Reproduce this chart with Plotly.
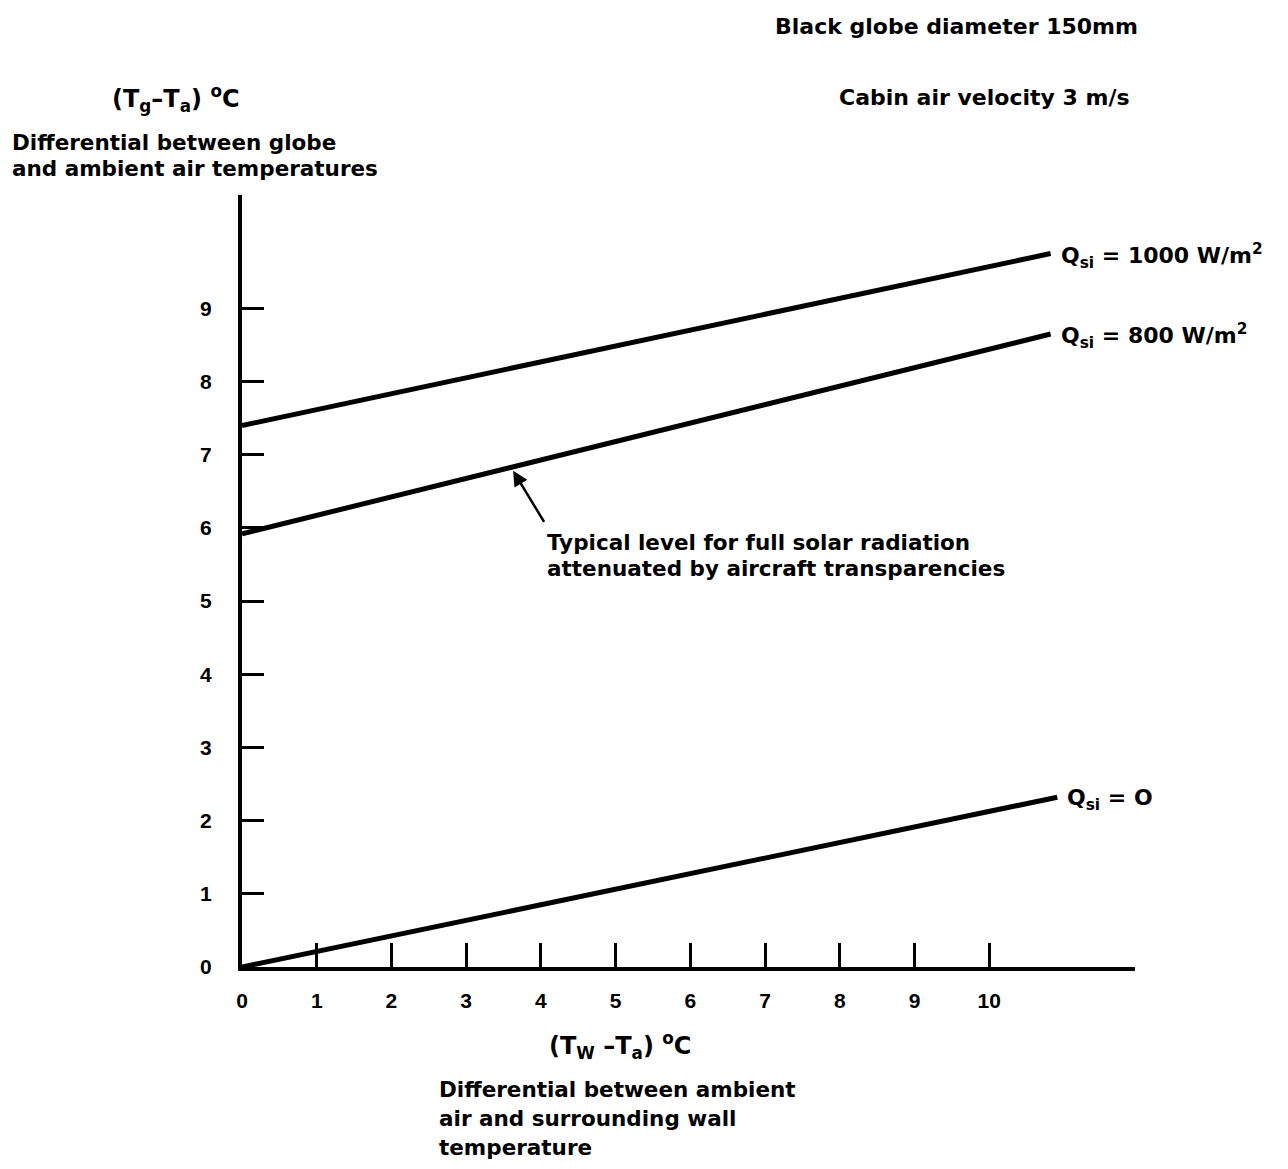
import plotly.graph_objects as go

# Wall-minus-air temperature differential (deg C) at the ends of each curve
x_start = [0.0, 0.0, 0.0]
x_end = [10.82, 10.82, 10.91]
# Globe-minus-air temperature differential (deg C) at those ends
q1000_y = [7.40, 9.75]
q800_y = [5.92, 8.65]
q0_y = [0.0, 2.32]

curve_labels = ["Q<sub>si</sub> = 1000 W/m<sup>2</sup>",
                "Q<sub>si</sub> = 800 W/m<sup>2</sup>",
                "Q<sub>si</sub> = O"]

x_ticks = list(range(0, 11))
y_ticks = list(range(0, 10))

FONT = "DejaVu Sans, Verdana, sans-serif"
TICK_FONT = "Liberation Sans, Arial, sans-serif"
INK = "#000000"
TXT = 21.5

# Plot area edges in page pixels (used to place free text)
L, R, T, B = 242, 1135, 195, 967


def px(xp, yp):
    return (xp - L) / (R - L), (B - yp) / (B - T)


def note(fig, xp, yp, text, anchor="left", size=TXT):
    x, y = px(xp, yp)
    fig.add_annotation(
        xref="paper", yref="paper", x=x, y=y, xanchor=anchor, yanchor="middle",
        text=f"<b>{text}</b>", showarrow=False,
        font=dict(family=FONT, size=size, color=INK),
    )


fig = go.Figure()
series = [q1000_y, q800_y, q0_y]
for i, ys in enumerate(series):
    fig.add_trace(go.Scatter(
        x=[x_start[i], x_end[i]], y=ys, mode="lines",
        line=dict(color=INK, width=5), showlegend=False, hoverinfo="skip",
    ))
    fig.add_annotation(
        x=x_end[i], y=ys[1], text=f"<b>{curve_labels[i]}</b>", showarrow=False,
        xanchor="left", yanchor="middle", xshift=8, yshift=-2,
        font=dict(family=FONT, size=22, color=INK),
    )

# Pointer to the typical operating level on the 800 W/m2 curve
arrow_x = 3.6
arrow_y = q800_y[0] + (q800_y[1] - q800_y[0]) * arrow_x / x_end[1]
fig.add_annotation(
    x=arrow_x, y=arrow_y, ax=34, ay=56, text="", showarrow=True,
    arrowhead=2, arrowsize=1.2, arrowwidth=2.5, arrowcolor=INK,
    standoff=4,
)
note(fig, 545, 542, "Typical level for full solar radiation")
note(fig, 545, 568, "attenuated by aircraft transparencies")

# Header notes
note(fig, 773, 27, "Black globe diameter 150mm", size=22)
note(fig, 837, 97, "Cabin air velocity 3 m/s", size=22)

# Y axis caption
note(fig, 176, 98, "(T<sub>g</sub>–T<sub>a</sub>) <sup>o</sup>C", anchor="center", size=24)
note(fig, 10, 142, "Differential between globe")
note(fig, 10, 168, "and ambient air temperatures")

# X axis caption
note(fig, 620, 1045, "(T<sub>W</sub> –T<sub>a</sub>) <sup>o</sup>C", anchor="center", size=24)
note(fig, 437, 1089, "Differential between ambient")
note(fig, 437, 1118, "air and surrounding wall")
note(fig, 437, 1147, "temperature")

fig.update_layout(
    width=1288, height=1169,
    margin=dict(l=L, r=1288 - R, t=T, b=1169 - B),
    paper_bgcolor="white", plot_bgcolor="white",
    font=dict(family=FONT, color=INK),
    xaxis=dict(
        range=[0, 11.95], showgrid=False, zeroline=False,
        showline=True, linecolor=INK, linewidth=4,
        tickmode="array", tickvals=x_ticks, ticktext=[str(v) for v in x_ticks],
        ticks="inside", ticklen=24, tickwidth=2.5, tickcolor=INK,
        ticklabelstandoff=12,
        tickfont=dict(family=TICK_FONT, size=21, color=INK, weight="bold"),
    ),
    yaxis=dict(
        range=[0, 10.55], showgrid=False, zeroline=False,
        showline=True, linecolor=INK, linewidth=4,
        tickmode="array", tickvals=y_ticks, ticktext=[str(v) for v in y_ticks],
        ticks="inside", ticklen=22, tickwidth=2.5, tickcolor=INK,
        ticklabelstandoff=22,
        tickfont=dict(family=TICK_FONT, size=21, color=INK, weight="bold"),
    ),
)

fig.write_html("out.html")
